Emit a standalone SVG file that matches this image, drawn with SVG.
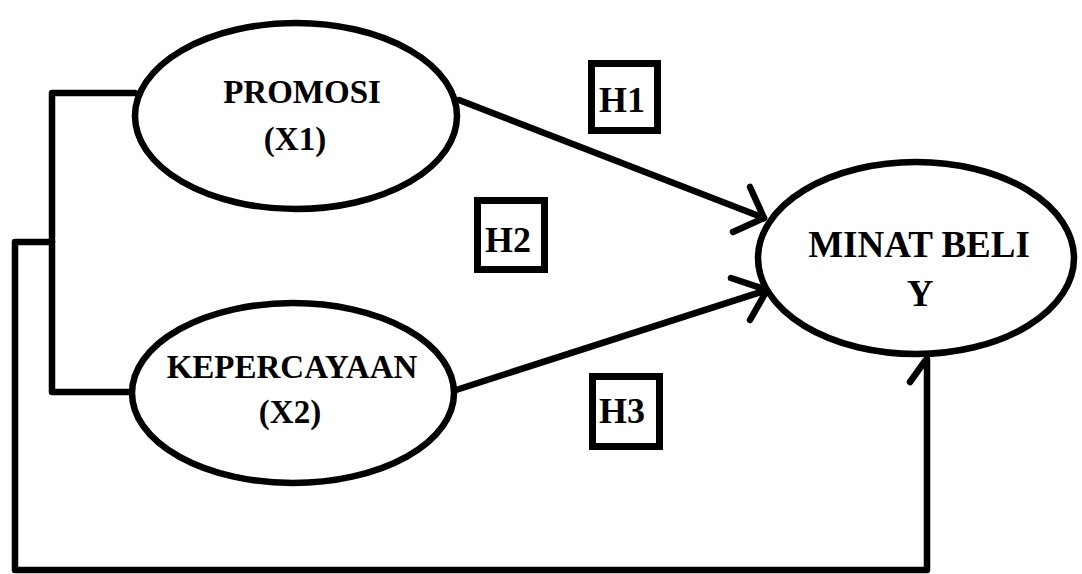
<svg xmlns="http://www.w3.org/2000/svg" width="1082" height="574" viewBox="0 0 1082 574">
  <style>
    .node { fill: #fff; stroke: #000; stroke-width: 6.5; }
    .label { font-family: "Liberation Serif", "Times New Roman", serif; font-weight: bold; fill: #000; text-anchor: middle; }
    .box { fill: #fff; stroke: #000; stroke-width: 7; }
    .wire { fill: none; stroke: #000; stroke-width: 6.5; stroke-linecap: round; stroke-linejoin: round; }
  </style>
  <rect width="1082" height="574" fill="#fff"/>

  <!-- connectors -->
  <g id="connectors">
    <!-- bracket joining the two independent variables -->
    <path class="wire" d="M135,93 L52,93 L52,392 L132,392"/>
    <!-- joint path from both variables round to the dependent variable -->
    <path class="wire" d="M52,242 L15,242 L15,570 L927,570 L927,359"/>
    <path class="wire" d="M925,361 L910,382"/>
    <!-- PROMOSI to MINAT BELI -->
    <path class="wire" d="M459,100 L764,218"/>
    <path class="wire" d="M750,187 L764,218 L733,232"/>
    <!-- KEPERCAYAAN to MINAT BELI -->
    <path class="wire" d="M456,390 L767,290"/>
    <path class="wire" d="M731,278 L767,290 L750,320"/>
  </g>

  <g id="promosi">
    <ellipse class="node" cx="296" cy="116" rx="161" ry="93"/>
    <text class="label" x="302" y="103" font-size="33">PROMOSI</text>
    <text class="label" x="295" y="150" font-size="33">(X1)</text>
  </g>

  <g id="kepercayaan">
    <ellipse class="node" cx="293" cy="393" rx="161" ry="90"/>
    <text class="label" x="292" y="378" font-size="33">KEPERCAYAAN</text>
    <text class="label" x="290" y="423" font-size="33">(X2)</text>
  </g>

  <g id="minat-beli">
    <ellipse class="node" cx="916" cy="258" rx="158" ry="96"/>
    <text class="label" x="919" y="257" font-size="37">MINAT BELI</text>
    <text class="label" x="920" y="306" font-size="37">Y</text>
  </g>

  <g id="h1">
    <rect class="box" x="591.5" y="63.5" width="66" height="67"/>
    <text class="label" x="622" y="112" font-size="36">H1</text>
  </g>

  <g id="h2">
    <rect class="box" x="477.5" y="200.5" width="67" height="69"/>
    <text class="label" x="508" y="252" font-size="36">H2</text>
  </g>

  <g id="h3">
    <rect class="box" x="592.5" y="376.5" width="67" height="70"/>
    <text class="label" x="622" y="423" font-size="36">H3</text>
  </g>
</svg>
